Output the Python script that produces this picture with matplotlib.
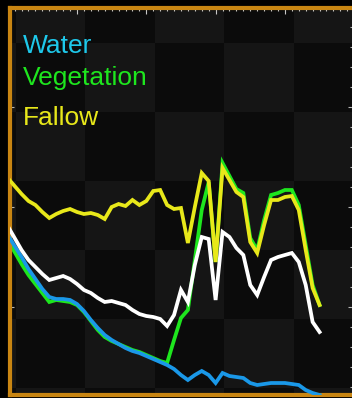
import numpy as np
import matplotlib
matplotlib.use("Agg")
import matplotlib.pyplot as plt
from matplotlib.ticker import MultipleLocator
from matplotlib.colors import ListedColormap

# ---- data ----
steps = list(range(46))
water = [1.72, 1.61, 1.50, 1.38, 1.28, 1.18, 1.10, 1.08, 1.08, 1.07, 1.03, 0.96, 0.87, 0.79,
         0.72, 0.67, 0.63, 0.59, 0.56, 0.54, 0.51, 0.48, 0.45, 0.42, 0.38, 0.32, 0.27, 0.32,
         0.36, 0.32, 0.24, 0.34, 0.31, 0.30, 0.29, 0.24, 0.22, 0.23, 0.24, 0.24, 0.24, 0.23,
         0.22, 0.17, 0.14, 0.12]
vegetation = [1.67, 1.55, 1.43, 1.32, 1.23, 1.14, 1.05, 1.07, 1.06, 1.05, 1.02, 0.95, 0.86, 0.77,
              0.70, 0.66, 0.63, 0.60, 0.57, 0.55, 0.52, 0.49, 0.46, 0.44, 0.67, 0.89, 0.97, 1.47,
              1.97, 2.25, 1.45, 2.44, 2.31, 2.18, 2.14, 1.69, 1.57, 1.87, 2.12, 2.14, 2.17, 2.17,
              2.02, 1.62, 1.22, 1.02]
fallow = [2.29, 2.21, 2.13, 2.06, 2.02, 1.95, 1.89, 1.93, 1.96, 1.98, 1.95, 1.93, 1.94, 1.92,
          1.88, 2.00, 2.03, 2.01, 2.07, 2.02, 2.06, 2.16, 2.17, 2.02, 1.98, 1.99, 1.64, 2.00,
          2.34, 2.26, 1.45, 2.39, 2.27, 2.15, 2.10, 1.65, 1.54, 1.82, 2.07, 2.07, 2.10, 2.11,
          1.97, 1.57, 1.19, 1.02]
total = [1.81, 1.69, 1.57, 1.47, 1.40, 1.33, 1.27, 1.29, 1.31, 1.28, 1.23, 1.17, 1.14, 1.09,
         1.05, 1.06, 1.04, 1.02, 0.97, 0.93, 0.91, 0.90, 0.88, 0.81, 0.92, 1.17, 1.05, 1.42,
         1.70, 1.68, 1.07, 1.75, 1.70, 1.59, 1.52, 1.22, 1.12, 1.30, 1.47, 1.50, 1.52, 1.54,
         1.45, 1.22, 0.85, 0.75]
labels = ["Water", "Vegetation", "Fallow"]

# ---- figure ----
W, H = 352, 398
fig = plt.figure(figsize=(W / 100, H / 100), dpi=100, facecolor="black")
ax = fig.add_axes([9.5 / W, 3 / H, (W - 9.5) / W, (395 - 8) / H])
ax.set_facecolor("#0c0c0c")

xlim = (0.26, 49.68)
ylim = (0.12, 3.99)

# checkerboard background (cells ~69 px)
cx0, cw = -8.85, 10.0
cy0, ch = -0.50, 0.69
ncol, nrow = 7, 8
board = np.zeros((nrow, ncol))
for r in range(nrow):
    for c in range(ncol):
        board[r, c] = (r + c) % 2
cmap = ListedColormap(["#0b0b0b", "#151515"])
ax.imshow(board, cmap=cmap, origin="lower", aspect="auto", interpolation="nearest",
          extent=(cx0, cx0 + ncol * cw, cy0, cy0 + nrow * ch), zorder=0)

lw = 2.7
ax.plot(steps, vegetation, color="#1ee61e", lw=lw, zorder=2, solid_joinstyle="miter")
ax.plot(steps, water, color="#1a98e8", lw=lw, zorder=3, solid_joinstyle="miter")
ax.plot(steps, fallow, color="#e8e81a", lw=lw, zorder=4, solid_joinstyle="miter")
ax.plot(steps, total, color="white", lw=lw, zorder=5, solid_joinstyle="miter")

ax.set_xlim(*xlim)
ax.set_ylim(*ylim)

# spines
for s in ["left", "top", "bottom"]:
    ax.spines[s].set_color("#c88512")
    ax.spines[s].set_linewidth(3.0)
ax.spines["right"].set_visible(False)

# ticks
ax.xaxis.set_major_locator(MultipleLocator(10))
ax.xaxis.set_minor_locator(MultipleLocator(1))
ax.yaxis.set_major_locator(MultipleLocator(1))
ax.yaxis.set_minor_locator(MultipleLocator(0.2))
ax.tick_params(axis="x", which="both", direction="in", top=True, bottom=False,
               labeltop=False, labelbottom=False, color="#c8c8c8", width=0.8)
ax.tick_params(axis="x", which="major", length=4.5)
ax.tick_params(axis="x", which="minor", length=2.3)
ax.tick_params(axis="y", which="both", direction="in", left=True, right=True,
               labelleft=False, labelright=False, color="#b4b4b4", width=0.8)
ax.tick_params(axis="y", which="major", length=3.0)
ax.tick_params(axis="y", which="minor", length=1.8, left=False)

# labels
fs = 19
label_colors = ["#1ec8ea", "#1ee61e", "#e8e81a"]
baselines = [53, 85, 125]
for name, col, by in zip(labels, label_colors, baselines):
    fig.text(22.5 / W, 1 - by / H, name, color=col, fontsize=fs,
             family="Liberation Sans", va="baseline", ha="left")

fig.savefig("out.png", dpi=100, facecolor="black")
